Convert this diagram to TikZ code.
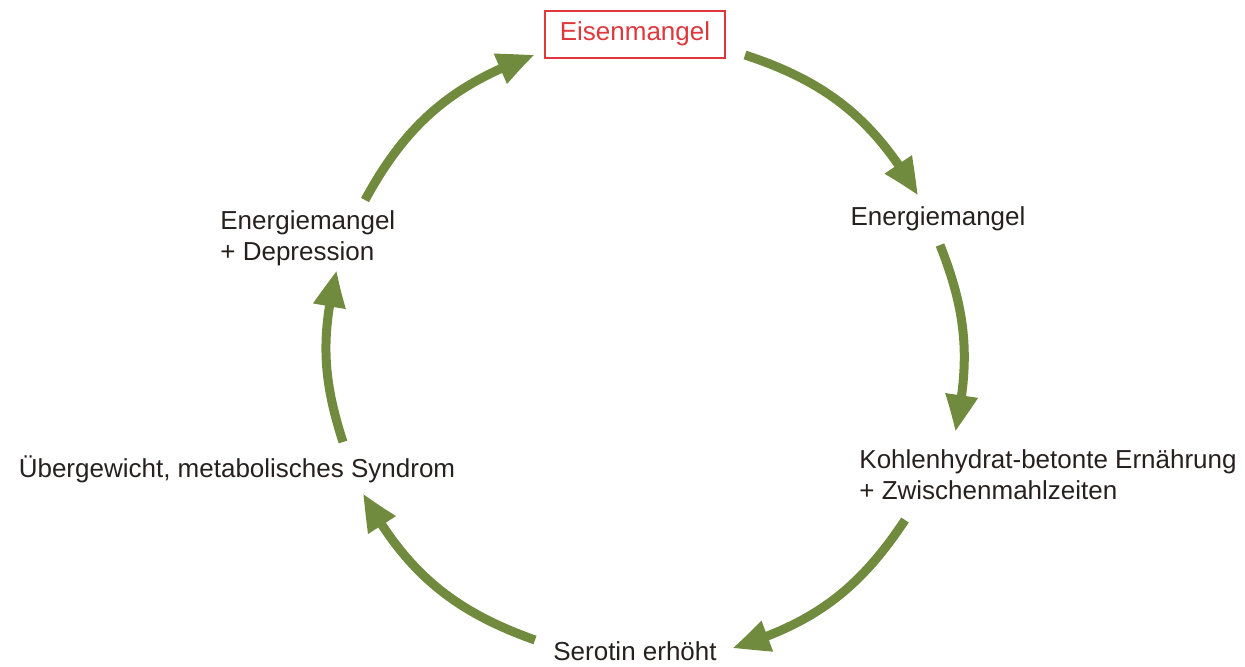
\documentclass[tikz,border=0pt]{standalone}
\usepackage{fontspec}
\setmainfont{Liberation Sans}
\usetikzlibrary{arrows.meta,bending}
\definecolor{zyklus}{RGB}{112,138,62}
\definecolor{eisenrot}{RGB}{222,56,60}
\definecolor{schrift}{RGB}{38,32,30}

\begin{document}
\begin{tikzpicture}[x=.5pt, y=-.5pt,
  zyk/.style={line width=4.5pt, zyklus, -{Triangle[length=19pt,width=15pt,bend]}},
  txt/.style={text=schrift, font=\fontsize{13}{15.5}\selectfont, inner sep=0pt},
  kasten/.style={txt, text=eisenrot, draw=eisenrot, line width=1pt, minimum width=90pt, minimum height=23.5pt}]

\useasboundingbox (0,0) rectangle (1245,666);

% Stationen
\node[kasten] (eisen) at (635,34) {Eisenmangel};
\node[txt] (energieR) at (938,219) {Energiemangel};
\node[txt, anchor=west, align=left] (kohlen) at (859,475) {Kohlenhydrat-betonte Ernährung\\+ Zwischenmahlzeiten};
\node[txt] (serotin) at (635,651) {Serotin erhöht};
\node[txt] (gewicht) at (237,469) {Übergewicht, metabolisches Syndrom};
\node[txt, anchor=west, align=left] (energieL) at (220,238) {Energiemangel\\+ Depression};

% Anfang und Ende der Pfeile
\coordinate (a1) at (745,55);  \coordinate (b1) at (918,196);
\coordinate (a2) at (940,245); \coordinate (b2) at (955,432);
\coordinate (a3) at (905,520); \coordinate (b3) at (732,648);
\coordinate (a4) at (535,640); \coordinate (b4) at (363,493);
\coordinate (a5) at (343,442); \coordinate (b5) at (337,270);
\coordinate (a6) at (365,200); \coordinate (b6) at (535,55);

\draw[zyk] (a1) to[bend left=21] (b1);
\draw[zyk] (a2) to[bend left=17] (b2);
\draw[zyk] (a3) to[bend left=20] (b3);
\draw[zyk] (a4) to[bend left=21] (b4);
\draw[zyk] (a5) to[bend left=16] (b5);
\draw[zyk] (a6) to[bend left=21] (b6);

\end{tikzpicture}
\end{document}
